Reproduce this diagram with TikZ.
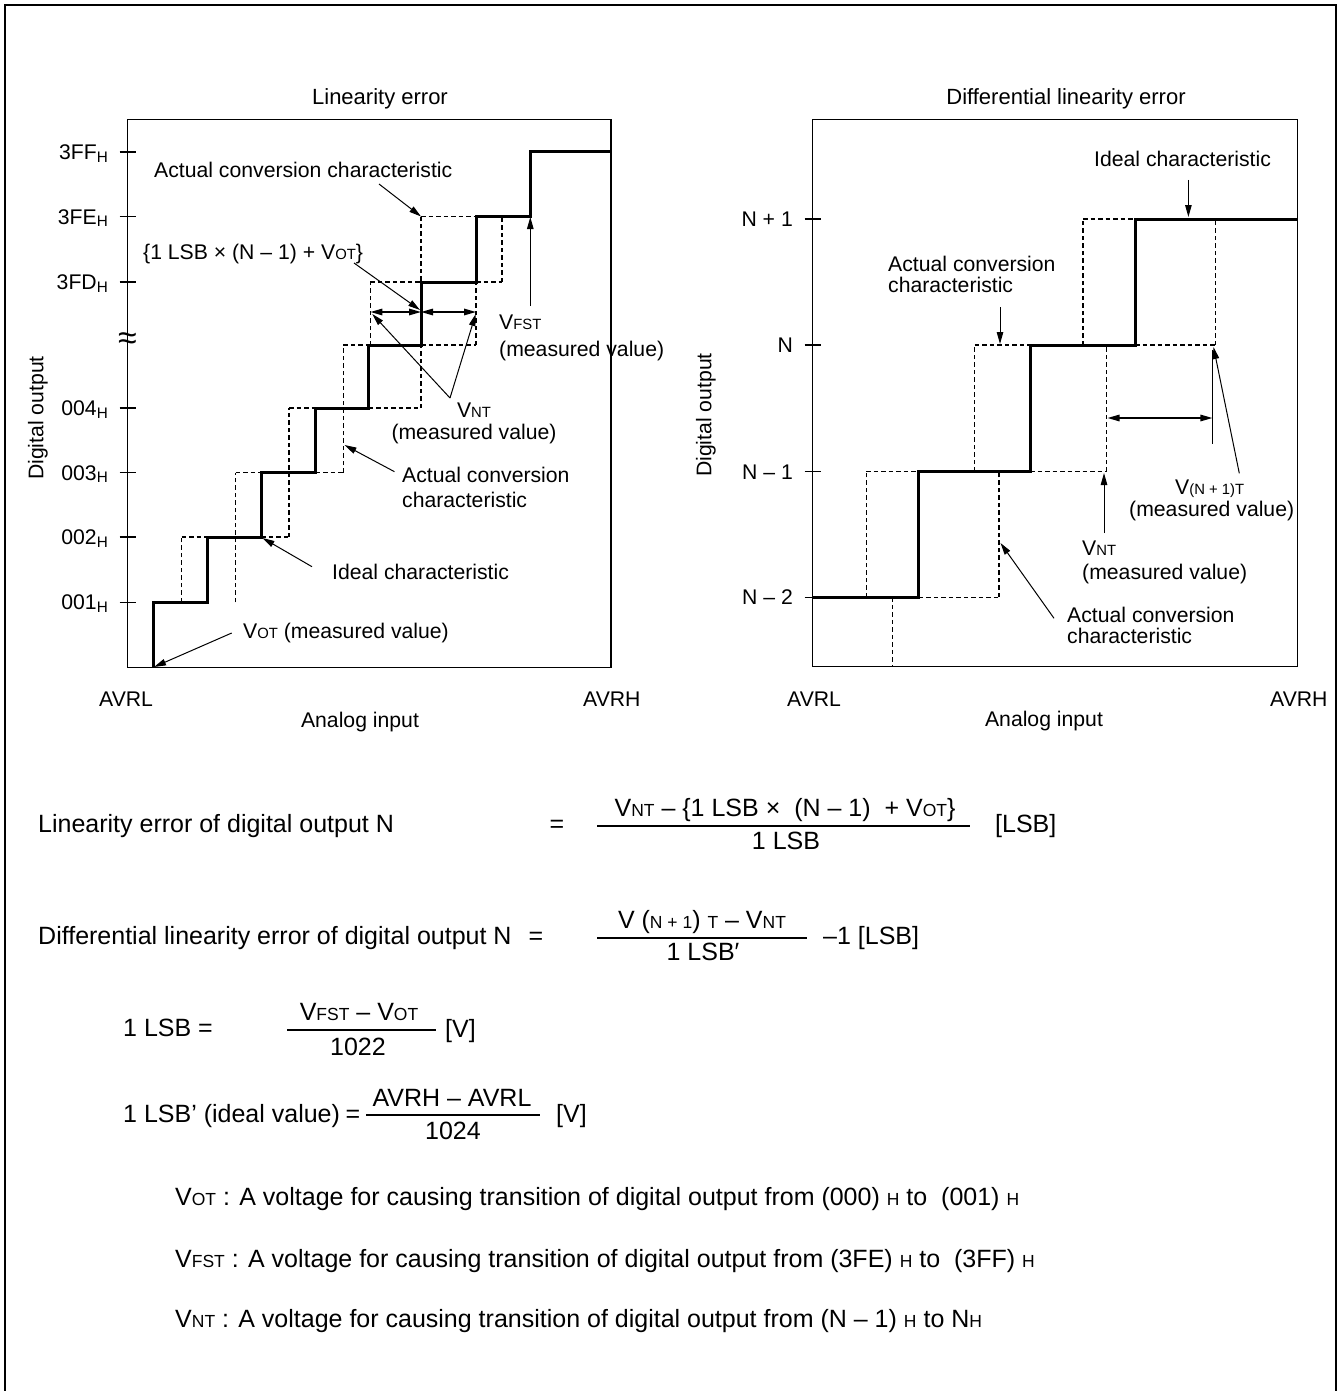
\documentclass[tikz,border=0pt]{standalone}
\usepackage{fontspec}
\setmainfont{Liberation Sans}
\usepackage{graphicx}
\usetikzlibrary{arrows.meta}
\newcommand{\ssc}[1]{\scalebox{0.7}{#1}}
\newcommand{\hsub}{\raisebox{-0.12em}{\scalebox{0.72}{H}}}
\tikzset{
  chartfont/.style={font=\fontsize{21.2}{25}\selectfont, inner sep=0pt},
  titlefont/.style={font=\fontsize{22}{26}\selectfont, inner sep=0pt},
  eqfont/.style={font=\fontsize{25}{29}\selectfont, inner sep=0pt},
  frame/.style={line width=1.2pt},
  ideal/.style={line width=3pt, line join=miter, line cap=butt},
  actual/.style={line width=1.2pt, dash pattern=on 4.5pt off 3pt},
  ptr/.style={line width=1pt, -{Triangle[length=12pt,width=6.5pt]}},
  dimarrow/.style={line width=1.5pt, {Triangle[length=12pt,width=6.5pt]}-{Triangle[length=12pt,width=6.5pt]}},
  tickline/.style={line width=1.2pt},
  fracbar/.style={line width=1.5pt}
}
\begin{document}
\begin{tikzpicture}[x=1pt,y=-1pt]
\useasboundingbox (0,0) rectangle (1341,1391);
% outer frame (open at bottom)
\draw[line width=2pt] (5,1391) -- (5,5) -- (1336,5) -- (1336,1391);

% ================= LEFT CHART =================
\node[titlefont, anchor=base] (ltitle) at (380,105) {Linearity error};
\draw[frame] (127.7,119.3) rectangle (611,667.7);
\foreach \y in {152,216.5,282,408,472.5,537,602.3}
  \draw[tickline] (119.7,\y) -- (135.7,\y);
\node[chartfont, anchor=base east] (t3ff) at (108,159.5) {3FF\hsub};
\node[chartfont, anchor=base east] (t3fe) at (108,224) {3FE\hsub};
\node[chartfont, anchor=base east] (t3fd) at (108,289.5) {3FD\hsub};
\node[chartfont, anchor=base east] (t004) at (108,415.5) {004\hsub};
\node[chartfont, anchor=base east] (t003) at (108,480) {003\hsub};
\node[chartfont, anchor=base east] (t002) at (108,544.5) {002\hsub};
\node[chartfont, anchor=base east] (t001) at (108,609.8) {001\hsub};
\node[font=\fontsize{34}{34}\selectfont, inner sep=0pt] (brk) at (127.5,341) {≈};
\node[chartfont, rotate=90] (lyl) at (38,418) {Digital output};
\node[chartfont, anchor=base west] (lavrl) at (99,706.5) {AVRL};
\node[chartfont, anchor=base west] (lavrh) at (583,706.5) {AVRH};
\node[chartfont, anchor=base] (lxl) at (360,727.5) {Analog input};

% actual characteristic (dashed)
\draw[actual]
  (181.7,602.3)--(181.7,537) (235.7,602.3)--(235.7,472.5)
  (289,537)--(289,408) (343.4,472.5)--(343.4,345)
  (370.4,345)--(370.4,282) (421,408)--(421,216.5)
  (476,345)--(476,282) (502,282)--(502,216.5)
  (181.7,537)--(207,537) (261.3,537)--(289,537)
  (235.7,472.5)--(261.3,472.5) (315.7,472.5)--(343.4,472.5)
  (289,408)--(315.7,408) (368.6,408)--(421,408)
  (343.4,345)--(368.6,345) (421,345)--(476,345)
  (370.4,282)--(421,282) (476,282)--(502,282)
  (421,216.5)--(476,216.5);
% ideal characteristic
\draw[ideal] (153,667.7) -- (153,602.3) -- (207,602.3) -- (207,537) -- (261.3,537)
  -- (261.3,472.5) -- (315.7,472.5) -- (315.7,408) -- (368.6,408) -- (368.6,345)
  -- (421,345) -- (421,282) -- (476,282) -- (476,216.5) -- (530.3,216.5)
  -- (530.3,152) -- (611,152);

% dimension arrows
\coordinate (dA) at (370.4,312);
\coordinate (dB) at (421,312);
\coordinate (dC) at (476,312);
\draw[dimarrow] (dA) -- (dB);
\draw[dimarrow] (dB) -- (dC);

% annotations
\node[chartfont, anchor=base west] (lact1) at (154,177.5) {Actual conversion characteristic};
\coordinate (lact1s) at (379,184);
\coordinate (lact1t) at (421,216.5);
\draw[ptr] (lact1s) -- (lact1t);

\node[chartfont, anchor=base west] (lexpr) at (143,259.5) {\{1 LSB × (N – 1) + V\ssc{OT}\}};
\coordinate (lexprs) at (354,263);
\coordinate (lexprt) at (420,310);
\draw[ptr] (lexprs) -- (lexprt);

\node[chartfont, anchor=base west] (lvfst) at (499,329.5) {V\ssc{FST}};
\node[chartfont, anchor=base west] (lvfstm) at (499,356.5) {(measured value)};
\coordinate (lvfsts) at (530.3,306);
\coordinate (lvfstt) at (530.3,217);
\draw[ptr] (lvfsts) -- (lvfstt);

\node[chartfont, anchor=base] (lvnt) at (474,417.5) {V\ssc{NT}};
\node[chartfont, anchor=base] (lvntm) at (474,439.5) {(measured value)};
\coordinate (lvntc) at (450,398);
\coordinate (lvnta) at (372.3,314);
\coordinate (lvntb) at (475.7,314);
\draw[ptr] (lvntc) -- (lvnta);
\draw[ptr] (lvntc) -- (lvntb);

\node[chartfont, anchor=base west] (lact2a) at (402,482.5) {Actual conversion};
\node[chartfont, anchor=base west] (lact2b) at (402,507.5) {characteristic};
\coordinate (lact2s) at (394.5,471.7);
\coordinate (lact2t) at (344.5,445);
\draw[ptr] (lact2s) -- (lact2t);

\node[chartfont, anchor=base west] (lideal) at (332,579.5) {Ideal characteristic};
\coordinate (lideals) at (312,566.7);
\coordinate (lidealt) at (262.5,538);
\draw[ptr] (lideals) -- (lidealt);

\node[chartfont, anchor=base west] (lvot) at (243,638.5) {V\ssc{OT} (measured value)};
\coordinate (lvots) at (231.7,633);
\coordinate (lvott) at (154,667);
\draw[ptr] (lvots) -- (lvott);

% ================= RIGHT CHART =================
\node[titlefont, anchor=base] (rtitle) at (1066,105) {Differential linearity error};
\draw[frame] (812.7,119.3) rectangle (1297.5,666.7);
\foreach \y in {219,345,471.7,597.3}
  \draw[tickline] (804.7,\y) -- (820.7,\y);
\node[chartfont, anchor=base east] (tn1) at (793,226.5) {N + 1};
\node[chartfont, anchor=base east] (tn) at (793,352.5) {N};
\node[chartfont, anchor=base east] (tnm1) at (793,479.2) {N – 1};
\node[chartfont, anchor=base east] (tnm2) at (793,604.8) {N – 2};
\node[chartfont, rotate=90] (ryl) at (706,415) {Digital output};
\node[chartfont, anchor=base west] (ravrl) at (787,706.5) {AVRL};
\node[chartfont, anchor=base west] (ravrh) at (1270,706.5) {AVRH};
\node[chartfont, anchor=base] (rxl) at (1044,726.5) {Analog input};

\draw[actual]
  (866.2,597.3)--(866.2,471.7) (892.3,597.3)--(892.3,666.7)
  (974.8,471.7)--(974.8,345) (998.9,597.3)--(998.9,471.7)
  (1083,345)--(1083,219) (1106.7,471.7)--(1106.7,345)
  (1215.3,345)--(1215.3,219)
  (866.2,471.7)--(918.9,471.7) (1030,471.7)--(1106.7,471.7)
  (918.9,597.3)--(998.9,597.3)
  (974.8,345)--(1030,345) (1135,345)--(1215.3,345)
  (1083,219)--(1135,219);
\draw[ideal] (812.7,597.3) -- (918.9,597.3) -- (918.9,471.7) -- (1030,471.7)
  -- (1030,345) -- (1135,345) -- (1135,219) -- (1297.5,219);

\node[chartfont, anchor=base west] (rideal) at (1094,166.5) {Ideal characteristic};
\coordinate (rideals) at (1188.4,180);
\coordinate (ridealt) at (1188.4,217);
\draw[ptr] (rideals) -- (ridealt);

\node[chartfont, anchor=base west] (ract1a) at (888,271.5) {Actual conversion};
\node[chartfont, anchor=base west] (ract1b) at (888,292.5) {characteristic};
\coordinate (ract1s) at (1000,307);
\coordinate (ract1t) at (1000,344);
\draw[ptr] (ract1s) -- (ract1t);

\coordinate (rwtop) at (1212.4,350);
\coordinate (rwbot) at (1212.4,444);
\draw[line width=1pt] (rwtop) -- (rwbot);
\coordinate (rdl) at (1107.5,418);
\coordinate (rdr) at (1212.4,418);
\draw[dimarrow] (rdl) -- (rdr);

\node[chartfont, anchor=base west] (rvn1) at (1175,494.5) {V\ssc{(N + 1)T}};
\node[chartfont, anchor=base west] (rvn1m) at (1129,516.5) {(measured value)};
\coordinate (rvn1s) at (1239.3,473.3);
\coordinate (rvn1t) at (1213.5,347);
\draw[ptr] (rvn1s) -- (rvn1t);

\node[chartfont, anchor=base west] (rvnt) at (1082,555.5) {V\ssc{NT}};
\node[chartfont, anchor=base west] (rvntm) at (1082,579.5) {(measured value)};
\coordinate (rvnts) at (1104,533);
\coordinate (rvntt) at (1104,473);
\draw[ptr] (rvnts) -- (rvntt);

\node[chartfont, anchor=base west] (ract2a) at (1067,622.5) {Actual conversion};
\node[chartfont, anchor=base west] (ract2b) at (1067,643.5) {characteristic};
\coordinate (ract2s) at (1054,618.3);
\coordinate (ract2t) at (1000.5,543);
\draw[ptr] (ract2s) -- (ract2t);

% ================= FORMULAS =================
\node[eqfont, anchor=base west] (e1l) at (38,832) {Linearity error of digital output N};
\node[eqfont, anchor=base] (e1eq) at (557,832) {=};
\node[eqfont, anchor=base] (e1n) at (785,816) {V\ssc{NT} – \{1 LSB × \ (N – 1) \ + V\ssc{OT}\}};
\coordinate (e1bl) at (597,826);
\coordinate (e1br) at (970,826);
\draw[fracbar] (e1bl) -- (e1br);
\node[eqfont, anchor=base] (e1d) at (786,849) {1 LSB};
\node[eqfont, anchor=base west] (e1u) at (995,832) {[LSB]};

\node[eqfont, anchor=base west] (e2l) at (38,944) {Differential linearity error of digital output N};
\node[eqfont, anchor=base] (e2eq) at (536,944) {=};
\node[eqfont, anchor=base] (e2n) at (702,928) {V (\ssc{N + 1}) \ssc{T} – V\ssc{NT}};
\coordinate (e2bl) at (597,938);
\coordinate (e2br) at (807,938);
\draw[fracbar] (e2bl) -- (e2br);
\node[eqfont, anchor=base] (e2d) at (703,960) {1 LSB′};
\node[eqfont, anchor=base west] (e2u) at (823,944) {–1 [LSB]};

\node[eqfont, anchor=base west] (e3l) at (123,1036) {1 LSB =};
\node[eqfont, anchor=base] (e3n) at (359,1020) {V\ssc{FST} – V\ssc{OT}};
\coordinate (e3bl) at (287,1030);
\coordinate (e3br) at (436,1030);
\draw[fracbar] (e3bl) -- (e3br);
\node[eqfont, anchor=base] (e3d) at (358,1055) {1022};
\node[eqfont, anchor=base west] (e3u) at (445,1037) {[V]};

\node[eqfont, anchor=base west] (e4l) at (123,1122) {1 LSB’ (ideal value)};
\node[eqfont, anchor=base] (e4eq) at (353,1122) {=};
\node[eqfont, anchor=base] (e4n) at (452,1106) {AVRH – AVRL};
\coordinate (e4bl) at (366,1115);
\coordinate (e4br) at (540,1115);
\draw[fracbar] (e4bl) -- (e4br);
\node[eqfont, anchor=base] (e4d) at (453,1139) {1024};
\node[eqfont, anchor=base west] (e4u) at (556,1122) {[V]};

\node[eqfont, anchor=base west] (d1) at (175,1205) {V\ssc{OT} : A voltage for causing transition of digital output from (000) \ssc{H} to \ (001) \ssc{H}};
\node[eqfont, anchor=base west] (d2) at (175,1267) {V\ssc{FST} : A voltage for causing transition of digital output from (3FE) \ssc{H} to \ (3FF) \ssc{H}};
\node[eqfont, anchor=base west] (d3) at (175,1327) {V\ssc{NT} : A voltage for causing transition of digital output from (N – 1) \ssc{H} to N\ssc{H}};
\end{tikzpicture}
\end{document}
